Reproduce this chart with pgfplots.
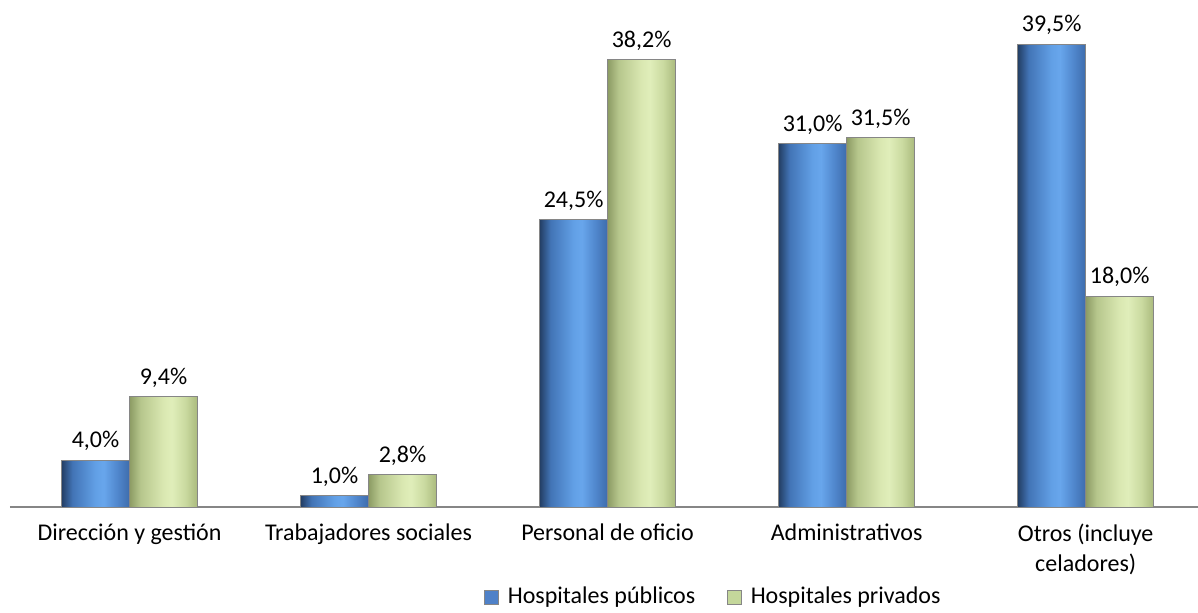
\documentclass[border=0pt]{standalone}
\usepackage{pgfplots}
\pgfplotsset{compat=1.18}
\usepackage{fontspec}
\setmainfont{Carlito}

\definecolor{axgray}{RGB}{134,134,134}
\definecolor{publeg}{RGB}{79,129,200}
\definecolor{privleg}{RGB}{196,215,155}

% horizontal cylinder-like gradients (bar spans 25bp..75bp)
\pgfdeclarehorizontalshading{pubshade}{100bp}{%
  color(0bp)=(rgb,255:red,35;green,62;blue,100);
  color(25bp)=(rgb,255:red,35;green,62;blue,100);
  color(33bp)=(rgb,255:red,66;green,116;blue,182);
  color(50bp)=(rgb,255:red,98;green,160;blue,230);
  color(56bp)=(rgb,255:red,104;green,166;blue,236);
  color(66bp)=(rgb,255:red,80;green,135;blue,205);
  color(75bp)=(rgb,255:red,62;green,108;blue,172);
  color(100bp)=(rgb,255:red,62;green,108;blue,172)}
\pgfdeclarehorizontalshading{privshade}{100bp}{%
  color(0bp)=(rgb,255:red,140;green,155;blue,100);
  color(25bp)=(rgb,255:red,140;green,155;blue,100);
  color(33bp)=(rgb,255:red,182;green,198;blue,140);
  color(50bp)=(rgb,255:red,218;green,232;blue,178);
  color(56bp)=(rgb,255:red,224;green,238;blue,186);
  color(66bp)=(rgb,255:red,202;green,218;blue,160);
  color(75bp)=(rgb,255:red,170;green,186;blue,125);
  color(100bp)=(rgb,255:red,170;green,186;blue,125)}

\pgfplotsset{
  pubbar/.style={ybar, bar width=34pt, bar shift=-17pt, draw=axgray, line width=0.4pt, shade, shading=pubshade, forget plot,
    every node near coord/.append style={xshift=-17pt}},
  privbar/.style={ybar, bar width=34pt, bar shift=17pt, draw=axgray, line width=0.4pt, shade, shading=privshade, forget plot,
    every node near coord/.append style={xshift=17pt}},
}

\begin{document}
\begin{tikzpicture}
\begin{axis}[
  at={(5pt,52.5pt)}, anchor=south west,
  width=594pt, height=253.5pt, scale only axis,
  xmin=-0.5, xmax=4.47,
  ymin=0, ymax=43.26,
  axis x line*=bottom, hide y axis,
  axis line style={draw=axgray, line width=1pt, -},
  xtick={0,1,2,3,4}, major tick length=0pt,
  xticklabels={Dirección y gestión, Trabajadores sociales, Personal de oficio, Administrativos, {Otros (incluye\\celadores)}},
  xticklabel style={font=\fontsize{12}{15}\selectfont, align=center, yshift=-5pt},
  /pgf/number format/assume math mode=true,
  nodes near coords={\pgfmathprintnumber[fixed, fixed zerofill, precision=1, use comma]{\pgfplotspointmeta}\%},
  every node near coord/.append style={font=\fontsize{12}{14}\selectfont, anchor=south, yshift=1pt, text=black},
  clip=false,
  legend style={at={(0.593,-0.1775)}, anchor=center, draw=none, legend columns=2,
    font=\fontsize{12}{14}\selectfont,
    /tikz/every even column/.append style={column sep=14pt}},
]
% Hospitales públicos
\addplot[pubbar] coordinates {(0,4.0)};
\addplot[pubbar] coordinates {(1,1.0)};
\addplot[pubbar] coordinates {(2,24.5)};
\addplot[pubbar] coordinates {(3,31.0)};
\addplot[pubbar] coordinates {(4,39.5)};
% Hospitales privados
\addplot[privbar] coordinates {(0,9.4)};
\addplot[privbar] coordinates {(1,2.8)};
\addplot[privbar] coordinates {(2,38.2)};
\addplot[privbar] coordinates {(3,31.5)};
\addplot[privbar] coordinates {(4,18.0)};
\addlegendimage{legend image code/.code={\draw[fill=publeg, draw=axgray, line width=0.4pt] (0pt,-3.5pt) rectangle (7pt,3.5pt); \path[draw=none] (7pt,0pt) -- (9.5pt,0pt);}}
\addlegendentry{Hospitales públicos}
\addlegendimage{legend image code/.code={\draw[fill=privleg, draw=axgray, line width=0.4pt] (0pt,-3.5pt) rectangle (7pt,3.5pt); \path[draw=none] (7pt,0pt) -- (9.5pt,0pt);}}
\addlegendentry{Hospitales privados}
\end{axis}
\pgfresetboundingbox
\path[use as bounding box] (0,0) rectangle (599pt,306pt);
\end{tikzpicture}
\end{document}
